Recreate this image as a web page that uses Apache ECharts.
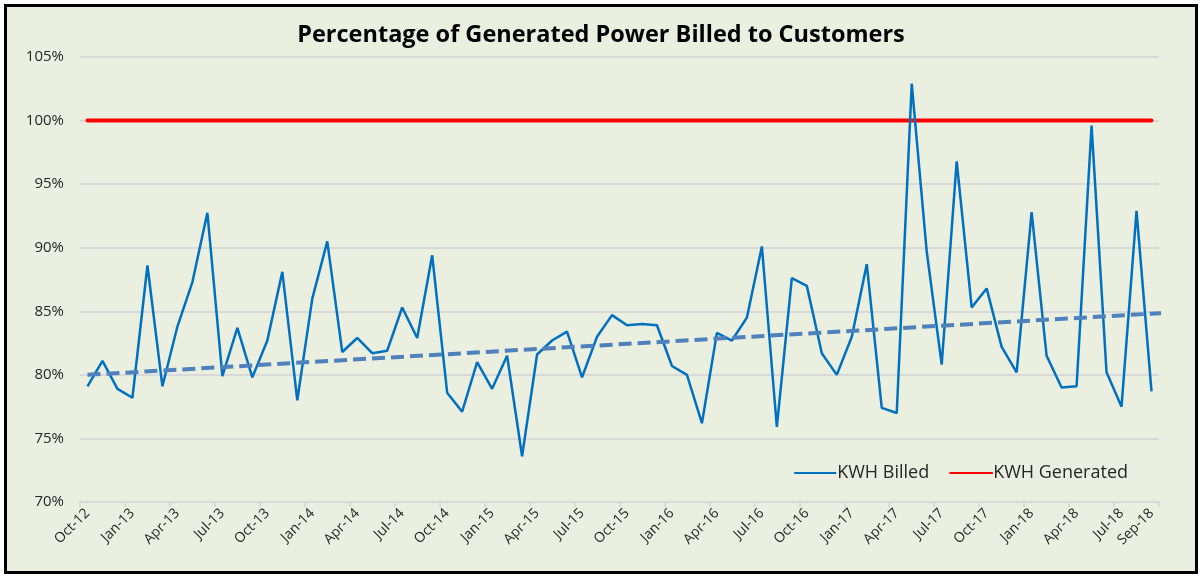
<!DOCTYPE html>
<html>
<head>
<meta charset="utf-8">
<script src="https://cdn.jsdelivr.net/npm/echarts@6/dist/echarts.min.js"></script>
<style>
    html, body { margin: 0; padding: 0; background: #fff; }
    #main {
        position: absolute; left: 4px; top: 4px;
        width: 1194px; height: 570px;
        border: 3px solid #000; box-sizing: border-box;
        background: #ebefdf;
    }
</style>
</head>
<body>
<div id="main"></div>
<script>
// Oct-12 .. Sep-18, one per month
var months = ['Oct-12', 'Nov-12', 'Dec-12',
    'Jan-13', 'Feb-13', 'Mar-13', 'Apr-13', 'May-13', 'Jun-13', 'Jul-13', 'Aug-13', 'Sep-13', 'Oct-13', 'Nov-13', 'Dec-13',
    'Jan-14', 'Feb-14', 'Mar-14', 'Apr-14', 'May-14', 'Jun-14', 'Jul-14', 'Aug-14', 'Sep-14', 'Oct-14', 'Nov-14', 'Dec-14',
    'Jan-15', 'Feb-15', 'Mar-15', 'Apr-15', 'May-15', 'Jun-15', 'Jul-15', 'Aug-15', 'Sep-15', 'Oct-15', 'Nov-15', 'Dec-15',
    'Jan-16', 'Feb-16', 'Mar-16', 'Apr-16', 'May-16', 'Jun-16', 'Jul-16', 'Aug-16', 'Sep-16', 'Oct-16', 'Nov-16', 'Dec-16',
    'Jan-17', 'Feb-17', 'Mar-17', 'Apr-17', 'May-17', 'Jun-17', 'Jul-17', 'Aug-17', 'Sep-17', 'Oct-17', 'Nov-17', 'Dec-17',
    'Jan-18', 'Feb-18', 'Mar-18', 'Apr-18', 'May-18', 'Jun-18', 'Jul-18', 'Aug-18', 'Sep-18'];

var kwhBilled = [79.1, 81.1, 78.9, 78.2, 88.6, 79.1, 83.8, 87.3, 92.75, 79.9, 83.7, 79.8,
    82.7, 88.1, 78.0, 86.0, 90.5, 81.8, 82.9, 81.7, 81.9, 85.3, 82.9, 89.4,
    78.6, 77.1, 81.0, 78.9, 81.5, 73.6, 81.6, 82.7, 83.4, 79.8, 83.0, 84.7,
    83.9, 84.0, 83.9, 80.7, 80.0, 76.2, 83.3, 82.7, 84.5, 90.1, 75.9, 87.6,
    87.0, 81.7, 80.0, 83.0, 88.7, 77.4, 77.0, 102.9, 89.7, 80.8, 96.8, 85.3,
    86.8, 82.2, 80.2, 92.8, 81.5, 79.0, 79.1, 99.6, 80.2, 77.5, 92.9, 78.7];

var kwhGenerated = [];
for (var i = 0; i < kwhBilled.length; i++) {
    kwhGenerated.push(100);
}

// trendline: month index -> value
var trendAt = [0, 72.3];
var trendVal = [80.0, 84.9];

var n = months.length;
var trend = [[trendAt[0], trendVal[0]], [trendAt[1], trendVal[1]]];

function showLabel(idx) {
    return idx % 3 === 0 || idx === months.length - 1;
}

var chart = echarts.init(document.getElementById('main'));
var option = {
    animation: false,
    title: {
        text: 'Percentage of Generated Power Billed to Customers',
        left: 'center',
        top: 11,
        textStyle: {
            fontFamily: 'Open Sans',
            fontSize: 23.5,
            fontWeight: 'bold',
            color: '#000'
        }
    },
    legend: {
        right: 62,
        top: 452,
        itemWidth: 42,
        itemHeight: 12,
        itemGap: 20,
        itemStyle: {opacity: 0},
        textStyle: {
            fontFamily: 'Open Sans',
            fontSize: 18,
            color: '#262626',
            padding: [0, 0, 0, -4]
        },
        data: ['KWH Billed', 'KWH Generated']
    },
    grid: {
        left: 73,
        right: 36,
        top: 50,
        bottom: 69
    },
    xAxis: [
        {
            type: 'category',
            boundaryGap: true,
            data: months,
            axisLine: {lineStyle: {color: '#d9d9d9', width: 2}},
            axisTick: {
                show: true,
                length: 5,
                interval: function (idx) { return idx % 3 === 0; },
                lineStyle: {color: '#d9d9d9', width: 2}
            },
            axisLabel: {
                interval: function (idx) { return showLabel(idx); },
                rotate: 45,
                margin: 9,
                fontFamily: 'Open Sans',
                fontSize: 14,
                color: '#262626'
            }
        },
        {
            type: 'value',
            min: -0.5,
            max: n - 0.5,
            show: false
        }
    ],
    yAxis: {
        type: 'value',
        min: 70,
        max: 105,
        interval: 5,
        axisLine: {show: false},
        axisTick: {show: false},
        axisLabel: {
            formatter: '{value}%',
            fontFamily: 'Open Sans',
            fontSize: 15,
            color: '#262626',
            margin: 16
        },
        splitLine: {lineStyle: {color: '#d9d9d9', width: 2}}
    },
    series: [
        {
            name: 'KWH Billed',
            type: 'line',
            data: kwhBilled,
            symbol: 'none',
            z: 3,
            lineStyle: {color: '#0070c0', width: 2.5},
            itemStyle: {color: '#0070c0'}
        },
        {
            name: 'KWH Generated',
            type: 'line',
            data: kwhGenerated,
            symbol: 'none',
            z: 2,
            lineStyle: {color: '#ff0000', width: 4, cap: 'round'},
            itemStyle: {color: '#ff0000'}
        },
        {
            name: 'trend',
            type: 'line',
            xAxisIndex: 1,
            data: trend,
            symbol: 'none',
            clip: false,
            z: 4,
            lineStyle: {color: '#4f81bd', width: 4, type: [13, 6]}
        }
    ]
};
chart.setOption(option);
</script>
</body>
</html>
